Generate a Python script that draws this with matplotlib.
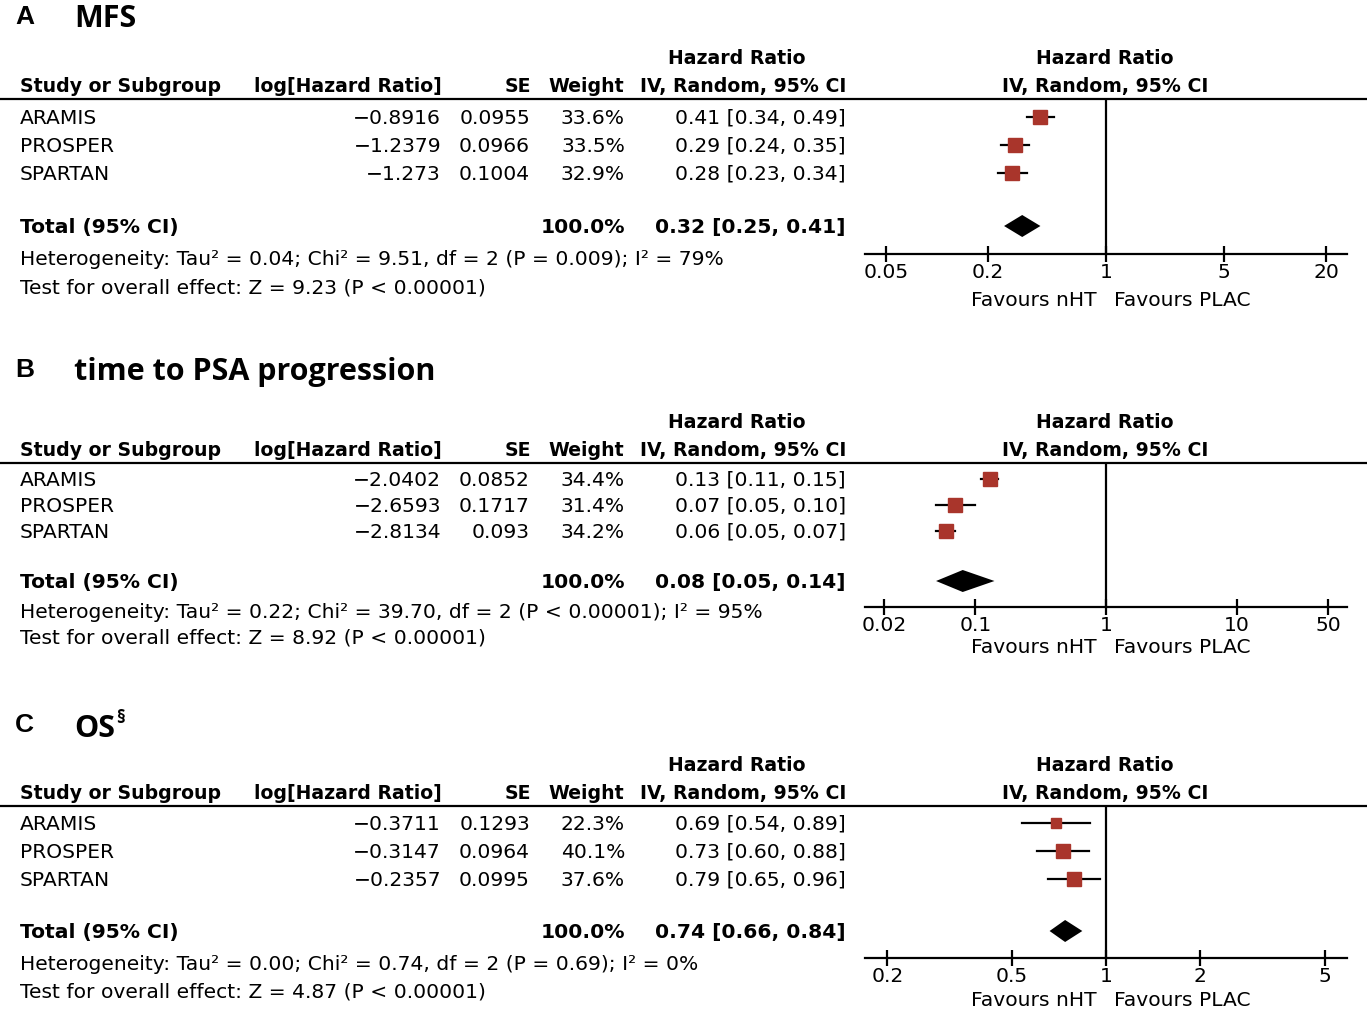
import numpy as np
import matplotlib
matplotlib.use("Agg")
import matplotlib.pyplot as plt
from matplotlib.lines import Line2D

W, H = 1367, 1010  # output size in pixels

# ---- data ----
studies = ["ARAMIS", "PROSPER", "SPARTAN"]

mfs_loghr = ["\u22120.8916", "\u22121.2379", "\u22121.273"]
mfs_se = ["0.0955", "0.0966", "0.1004"]
mfs_weight = [33.6, 33.5, 32.9]
mfs_hr = [0.41, 0.29, 0.28]
mfs_lo = [0.34, 0.24, 0.23]
mfs_hi = [0.49, 0.35, 0.34]
mfs_total = [0.32, 0.25, 0.41]
mfs_het = "Heterogeneity: Tau\u00b2 = 0.04; Chi\u00b2 = 9.51, df = 2 (P = 0.009); I\u00b2 = 79%"
mfs_test = "Test for overall effect: Z = 9.23 (P < 0.00001)"
mfs_ticks = [0.05, 0.2, 1, 5, 20]
mfs_ticklabels = ["0.05", "0.2", "1", "5", "20"]

psa_loghr = ["\u22122.0402", "\u22122.6593", "\u22122.8134"]
psa_se = ["0.0852", "0.1717", "0.093"]
psa_weight = [34.4, 31.4, 34.2]
psa_hr = [0.13, 0.07, 0.06]
psa_lo = [0.11, 0.05, 0.05]
psa_hi = [0.15, 0.10, 0.07]
psa_total = [0.08, 0.05, 0.14]
psa_het = "Heterogeneity: Tau\u00b2 = 0.22; Chi\u00b2 = 39.70, df = 2 (P < 0.00001); I\u00b2 = 95%"
psa_test = "Test for overall effect: Z = 8.92 (P < 0.00001)"
psa_ticks = [0.02, 0.1, 1, 10, 50]
psa_ticklabels = ["0.02", "0.1", "1", "10", "50"]

os_loghr = ["\u22120.3711", "\u22120.3147", "\u22120.2357"]
os_se = ["0.1293", "0.0964", "0.0995"]
os_weight = [22.3, 40.1, 37.6]
os_hr = [0.69, 0.73, 0.79]
os_lo = [0.54, 0.60, 0.65]
os_hi = [0.89, 0.88, 0.96]
os_total = [0.74, 0.66, 0.84]
os_het = "Heterogeneity: Tau\u00b2 = 0.00; Chi\u00b2 = 0.74, df = 2 (P = 0.69); I\u00b2 = 0%"
os_test = "Test for overall effect: Z = 4.87 (P < 0.00001)"
os_ticks = [0.2, 0.5, 1, 2, 5]
os_ticklabels = ["0.2", "0.5", "1", "2", "5"]

RED = "#A9352B"
FS = 14.6      # regular table text
FSB = 13.6     # bold header text
BODY = "DejaVu Sans"

fig = plt.figure(figsize=(W / 100, H / 100), dpi=100)


def txt(x, y, s, **kw):
    # place text using pixel coords (y from top, text baseline)
    kw.setdefault("fontsize", FS)
    kw.setdefault("family", BODY)
    kw.setdefault("va", "baseline")
    fig.text(x / W, 1 - y / H, s, **kw)


def hline(y, x0=0, x1=W, lw=1.6):
    fig.add_artist(Line2D([x0 / W, x1 / W], [1 - y / H, 1 - y / H],
                          color="black", lw=lw, transform=fig.transFigure))


def panel(lay, letter, title, loghr, se, weight, hr, lo, hi, total, het, test,
          ticks, ticklabels, xmax, sup=None):
    # titles
    txt(15, lay["letter"], letter, fontsize=19, family="Liberation Sans", weight="bold")
    txt(74, lay["title"], title, fontsize=22, family="Open Sans", weight="bold")
    if sup:
        txt(116, lay["title"] - 14, sup, fontsize=13, family="Open Sans", weight="bold")

    h1 = lay["line"] - 35
    h2 = lay["line"] - 7
    line_y = lay["line"]
    # header
    txt(737, h1, "Hazard Ratio", weight="bold", fontsize=FSB, ha="center")
    txt(1105, h1, "Hazard Ratio", weight="bold", fontsize=FSB, ha="center")
    txt(20, h2, "Study or Subgroup", weight="bold", fontsize=FSB)
    txt(442, h2, "log[Hazard Ratio]", weight="bold", fontsize=FSB, ha="right")
    txt(531, h2, "SE", weight="bold", fontsize=FSB, ha="right")
    txt(624, h2, "Weight", weight="bold", fontsize=FSB, ha="right")
    txt(846, h2, "IV, Random, 95% CI", weight="bold", fontsize=FSB, ha="right")
    txt(1105, h2, "IV, Random, 95% CI", weight="bold", fontsize=FSB, ha="center")
    hline(line_y)

    rows = lay["rows"]
    for i, r in enumerate(rows):
        txt(20, r, studies[i])
        txt(441, r, loghr[i], ha="right")
        txt(530, r, se[i], ha="right")
        txt(625, r, f"{weight[i]:.1f}%", ha="right")
        txt(846, r, f"{hr[i]:.2f} [{lo[i]:.2f}, {hi[i]:.2f}]", ha="right")

    tot_y = lay["total"]
    txt(20, tot_y, "Total (95% CI)", weight="bold")
    txt(625, tot_y, f"{sum(weight):.1f}%", weight="bold", ha="right")
    txt(846, tot_y, f"{total[0]:.2f} [{total[1]:.2f}, {total[2]:.2f}]",
        weight="bold", ha="right")
    txt(20, lay["het"], het)
    txt(20, lay["test"], test)

    # forest plot axes, y in pixel units
    axis_y = lay["axis"]
    ax = fig.add_axes([865 / W, 1 - axis_y / H, 482 / W, (axis_y - line_y) / H])
    ax.set_xscale("log")
    ax.set_xlim(1 / xmax, xmax)
    ax.set_ylim(axis_y, line_y)
    ax.patch.set_alpha(0)
    for s in ["top", "left", "right"]:
        ax.spines[s].set_visible(False)
    ax.spines["bottom"].set_linewidth(1.6)
    ax.set_yticks([])
    ax.set_xticks(ticks)
    ax.set_xticklabels(ticklabels, family=BODY, fontsize=FS)
    ax.minorticks_off()
    ax.tick_params(axis="x", direction="inout", length=11, width=1.6, pad=1)
    ax.axvline(1, color="black", lw=1.6)

    wmax = max(weight)
    for i, r in enumerate(rows):
        ax.plot([lo[i], hi[i]], [r - 7, r - 7], color="black", lw=1.6, zorder=2)
        ms = 10.5 * np.sqrt(weight[i] / wmax)
        ax.plot(hr[i], r - 7, marker="s", ms=ms, color=RED, mec=RED, zorder=3)
    dy = tot_y - 7
    ax.fill([total[1], total[0], total[2], total[0]],
            [dy, dy - 11, dy, dy + 11], color="black", lw=0, zorder=3)

    txt(1097, lay["fav"], "Favours nHT", ha="right")
    txt(1114, lay["fav"], "Favours PLAC", ha="left")


lay_a = dict(letter=24, title=27, line=99, rows=[124, 152, 180], total=233,
             het=265, test=293, axis=254, fav=306)
lay_b = dict(letter=377, title=380, line=463, rows=[486, 512, 538], total=588,
             het=618, test=644, axis=607, fav=653)
lay_c = dict(letter=732, title=737, line=806, rows=[830, 858, 886], total=938,
             het=970, test=998, axis=958, fav=1006)

panel(lay_a, "A", "MFS", mfs_loghr, mfs_se, mfs_weight, mfs_hr, mfs_lo, mfs_hi,
      mfs_total, mfs_het, mfs_test, mfs_ticks, mfs_ticklabels, 26.5)
panel(lay_b, "B", "time to PSA progression", psa_loghr, psa_se, psa_weight, psa_hr,
      psa_lo, psa_hi, psa_total, psa_het, psa_test, psa_ticks, psa_ticklabels, 70.0)
panel(lay_c, "C", "OS", os_loghr, os_se, os_weight, os_hr, os_lo, os_hi,
      os_total, os_het, os_test, os_ticks, os_ticklabels, 5.9, sup="\u00a7")

fig.savefig("out.png", dpi=100)
